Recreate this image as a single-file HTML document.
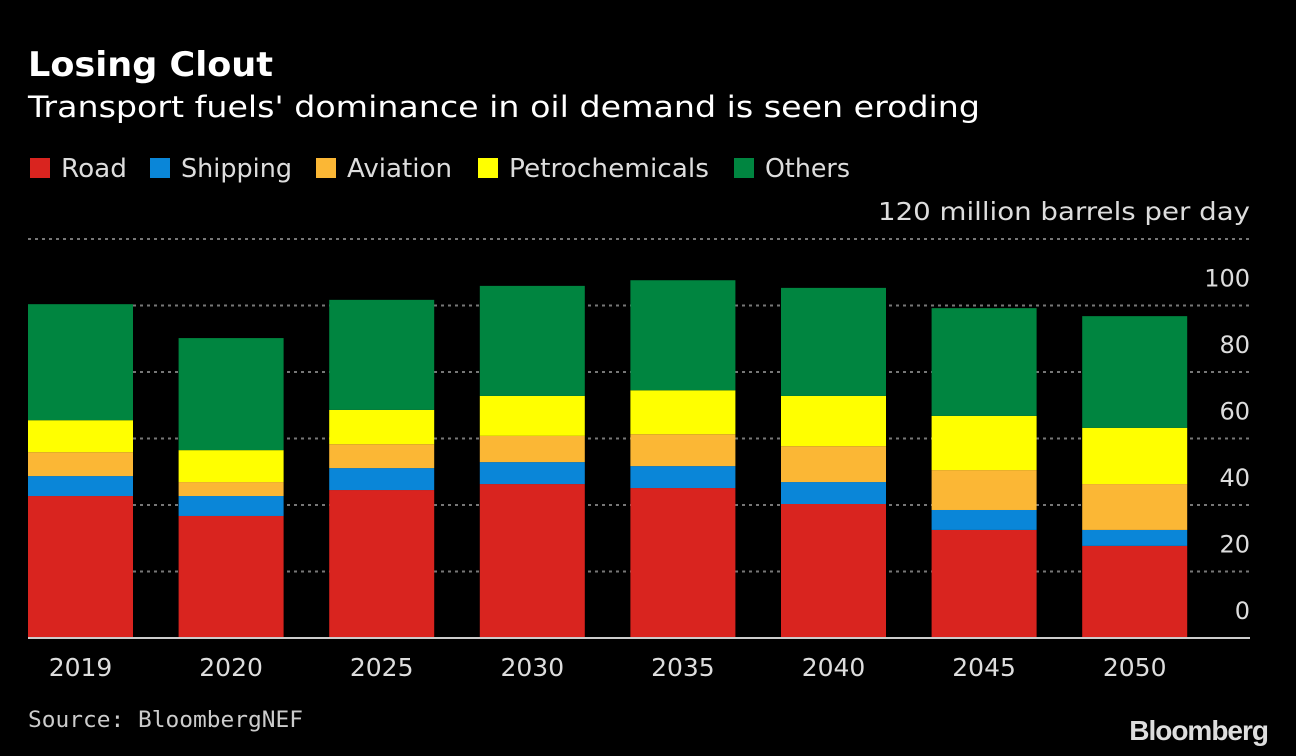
<!DOCTYPE html>
<html><head><meta charset="utf-8"><style>
body{margin:0;background:#000;width:1296px;height:756px;overflow:hidden;font-family:"DejaVu Sans","Liberation Sans",sans-serif;color:#e6e6e6}
text{font-family:"DejaVu Sans","Liberation Sans",sans-serif}
</style></head><body>
<svg width="1296" height="756" style="position:absolute;left:0;top:0">
<text x="28" y="76" font-size="34" font-weight="bold" fill="#fff" textLength="245" lengthAdjust="spacingAndGlyphs">Losing Clout</text>
<text x="28" y="117" font-size="29" fill="#fff" textLength="952" lengthAdjust="spacingAndGlyphs">Transport fuels' dominance in oil demand is seen eroding</text>
<g id="legend"></g>
<text x="1250" y="220" font-size="25" fill="#ddd" text-anchor="end" textLength="372" lengthAdjust="spacingAndGlyphs">120 million barrels per day</text>
<g id="grid"></g><g id="bars"></g><g id="xl"></g>
<line x1="28" x2="1250" y1="638" y2="638" stroke="#ccc" stroke-width="2"/>
<text x="28" y="727" font-size="22" fill="#ccc" style="font-family:'DejaVu Sans Mono','Liberation Mono',monospace" textLength="275" lengthAdjust="spacingAndGlyphs">Source: BloombergNEF</text>
<text x="1268" y="740" font-size="28" font-weight="bold" fill="#ddd" text-anchor="end" style="font-family:'Liberation Sans',sans-serif" letter-spacing="-1">Bloomberg</text>
</svg>
<script>
const categories=["2019","2020","2025","2030","2035","2040","2045","2050"];
const seriesNames=["Road","Shipping","Aviation","Petrochemicals","Others"];
const seriesColors=["#d9241f","#0a86d8","#fbb735","#ffff00","#008540"];
const road=[42.7,36.7,44.5,46.3,45.1,40.3,32.5,27.7];
const shipping=[6,6,6.6,6.6,6.6,6.6,6,4.8];
const aviation=[7.2,4.2,7.2,7.9,9.6,10.8,12,13.8];
const petrochemicals=[9.6,9.6,10.3,12,13.2,15.1,16.3,16.9];
const others=[34.9,33.7,33.1,33.1,33.1,32.5,32.4,33.6];
const ticks=[0,20,40,60,80,100];
const NS="http://www.w3.org/2000/svg";
const y=v=>638-v*3.325, x=i=>28+i*150.6, bw=105;
function mk(t,a,p){const e=document.createElementNS(NS,t);for(const k in a)e.setAttribute(k,a[k]);p.appendChild(e);return e;}
const grid=document.getElementById('grid');
[20,40,60,80,100,120].forEach(v=>{const l=mk('line',{x1:28,x2:1250,y1:y(v),y2:y(v),stroke:'#777','stroke-width':2,'stroke-dasharray':'3,4'},grid);

});
ticks.forEach(v=>{const t=mk('text',{x:1250,y:y(v)-19,'font-size':24,fill:'#ddd','text-anchor':'end'},grid);t.textContent=v;

});
const series=[road,shipping,aviation,petrochemicals,others];
const bars=document.getElementById('bars'),xl=document.getElementById('xl');
categories.forEach((c,i)=>{let acc=0;series.forEach((s,j)=>{const r=mk('rect',{x:x(i),y:y(acc+s[i]),width:bw,height:s[i]*3.325,fill:seriesColors[j]},bars);acc+=s[i];

});
const t=mk('text',{x:x(i)+bw/2,y:676,'font-size':25,fill:'#ddd','text-anchor':'middle'},xl);t.textContent=c;

});
const lg=document.getElementById('legend');
const lgX=[30,150,316,478,734], lgW=[66,111,105,200,85];
seriesNames.forEach((n,j)=>{mk('rect',{x:lgX[j],y:158,width:20,height:20,fill:seriesColors[j]},lg);
const t=mk('text',{x:lgX[j]+31,y:177,'font-size':26,fill:'#ddd',textLength:lgW[j],lengthAdjust:'spacingAndGlyphs'},lg);t.textContent=n;

});
</script>
</body></html>
